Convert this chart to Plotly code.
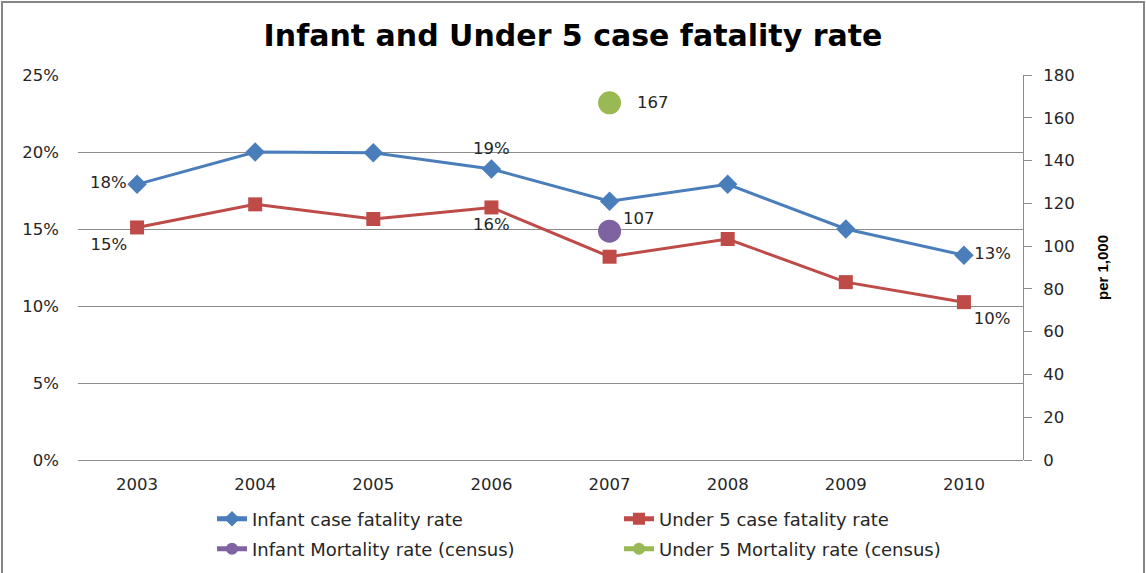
import plotly.graph_objects as go

years = ["2003", "2004", "2005", "2006", "2007", "2008", "2009", "2010"]
infant_cfr = [17.9, 20.0, 19.95, 18.9, 16.8, 17.9, 15.0, 13.3]
under5_cfr = [15.1, 16.6, 15.65, 16.4, 13.2, 14.35, 11.55, 10.25]
infant_labels = ["18%", "", "", "19%", "", "", "", "13%"]
under5_labels = ["15%", "", "", "16%", "", "", "", "10%"]
infant_pos = ["middle left", "top center", "top center", "top center", "top center", "top center", "top center", "middle right"]
under5_pos = ["bottom left", "bottom center", "bottom center", "bottom center", "bottom center", "bottom center", "bottom center", "bottom right"]
census_year = ["2007"]
infant_mort = [107]
under5_mort = [167]

BLUE = "#4A7EBB"
RED = "#BE4B48"
PURPLE = "#7E62A1"
GREEN = "#98B954"
FONT = "DejaVu Sans"
TXT = "#262626"
LBL = dict(family=FONT, size=16.5, color=TXT)

fig = go.Figure()
fig.add_trace(go.Scatter(
    x=years, y=infant_cfr, name="Infant case fatality rate", mode="lines+markers+text",
    line=dict(color=BLUE, width=3), marker=dict(symbol="diamond", size=15, color=BLUE),
    text=infant_labels, textposition=infant_pos, textfont=LBL, cliponaxis=False,
    legend="legend"))
fig.add_trace(go.Scatter(
    x=years, y=under5_cfr, name="Under 5 case fatality rate", mode="lines+markers+text",
    line=dict(color=RED, width=3), marker=dict(symbol="square", size=14, color=RED),
    text=under5_labels, textposition=under5_pos, textfont=LBL, cliponaxis=False,
    legend="legend"))
fig.add_trace(go.Scatter(
    x=census_year, y=infant_mort, name="Infant Mortality rate (census)", mode="lines+markers",
    line=dict(color=PURPLE, width=3), marker=dict(symbol="circle", size=23, color=PURPLE),
    yaxis="y2", cliponaxis=False, legend="legend2"))
fig.add_trace(go.Scatter(
    x=census_year, y=under5_mort, name="Under 5 Mortality rate (census)", mode="lines+markers",
    line=dict(color=GREEN, width=3), marker=dict(symbol="circle", size=23, color=GREEN),
    yaxis="y2", cliponaxis=False, legend="legend2"))

cidx = years.index(census_year[0])
fig.add_annotation(x=cidx, y=infant_mort[0], xref="x", yref="y2",
                   text=str(infant_mort[0]), showarrow=False, xanchor="left", yanchor="middle",
                   xshift=11, yshift=13, font=LBL)
fig.add_annotation(x=cidx, y=under5_mort[0], xref="x", yref="y2",
                   text=str(under5_mort[0]), showarrow=False, xanchor="left", yanchor="middle",
                   xshift=25, yshift=0, font=LBL)

L, R, T, B = 78, 123, 75, 113
W, H = 1146, 573
pw, ph = W - L - R, H - T - B

def px2paper_x(px):
    return (px - L) / pw

def px2paper_y(py):
    return (H - B - py) / ph

TICK = dict(family=FONT, size=16.5, color=TXT)
LEG = dict(orientation="h", xanchor="left", yanchor="middle",
           entrywidth=362, entrywidthmode="pixels", itemwidth=30,
           itemsizing="constant", bgcolor="rgba(0,0,0,0)",
           font=dict(family=FONT, size=18, color=TXT))

fig.update_layout(
    width=W, height=H,
    margin=dict(l=L, r=R, t=T, b=B, autoexpand=False),
    paper_bgcolor="white", plot_bgcolor="white",
    font=dict(family=FONT, size=16, color=TXT),
    title=dict(text="<b>Infant and Under 5 case fatality rate</b>", x=0.5, xanchor="center",
               y=1 - 35 / H, yanchor="middle",
               font=dict(family="DejaVu Sans", size=30, color="black")),
    xaxis=dict(type="category", range=[-0.5, 7.5], showgrid=False, showline=False,
               ticks="", tickfont=TICK, ticklabelstandoff=12),
    yaxis=dict(range=[0, 25], dtick=5, ticksuffix="%", showgrid=True, gridcolor="#8C8C8C",
               gridwidth=1, zeroline=True, zerolinecolor="#8C8C8C", zerolinewidth=1,
               showline=False, ticks="", tickfont=TICK, ticklabelstandoff=18),
    yaxis2=dict(range=[0, 180], dtick=20, overlaying="y", side="right", showgrid=False,
                zeroline=False, showline=True, linecolor="#8C8C8C", linewidth=1,
                ticks="outside", ticklen=8, tickcolor="#8C8C8C", tickfont=TICK,
                ticklabelstandoff=8,
                title=dict(text="<b>per 1,000</b>", standoff=23,
                           font=dict(family="Liberation Sans", size=15, color="black"))),
    legend=dict(LEG, x=px2paper_x(212), y=px2paper_y(519)),
    legend2=dict(LEG, x=px2paper_x(212), y=px2paper_y(549)),
    showlegend=True,
    shapes=[dict(type="rect", xref="paper", yref="paper",
                 x0=px2paper_x(2), x1=px2paper_x(1144), y0=px2paper_y(580), y1=px2paper_y(2),
                 line=dict(color="#868686", width=2), fillcolor="rgba(0,0,0,0)", layer="below")],
)

fig.write_html("out.html", config={"displayModeBar": False},
               post_script="document.body.style.margin='0';")
